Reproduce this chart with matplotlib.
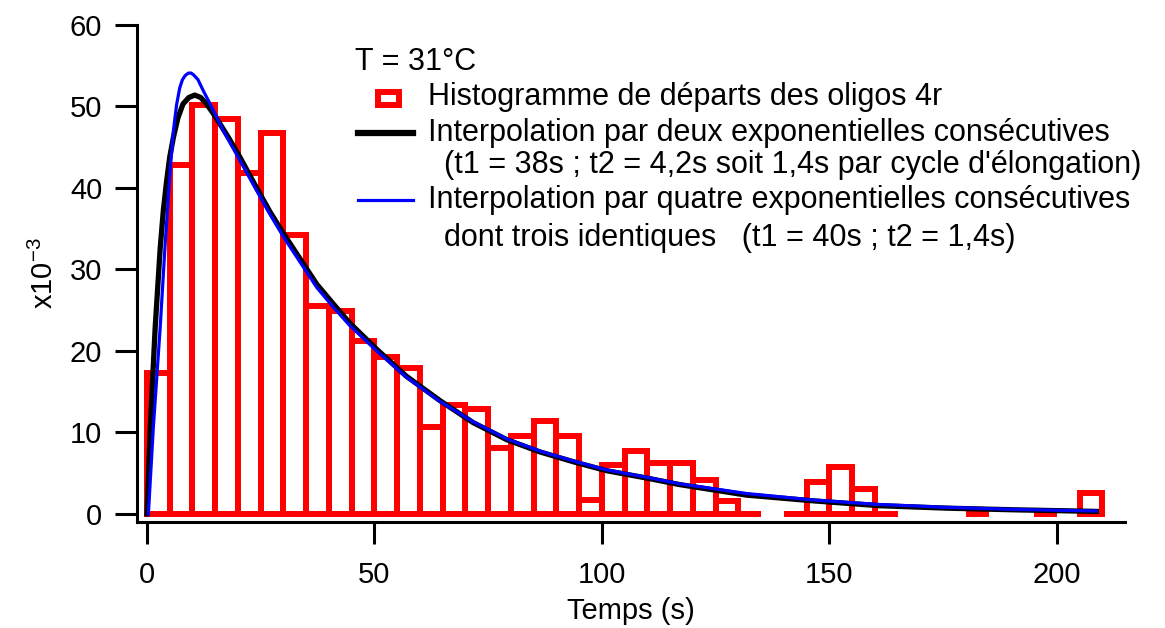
import numpy as np
import matplotlib
matplotlib.use("Agg")
import matplotlib.pyplot as plt
from matplotlib.patches import Rectangle
from matplotlib.lines import Line2D

plt.rcParams['font.family'] = ['Liberation Sans', 'DejaVu Sans']

# histogram of departures, 5 s bins (nan = empty bin, not drawn)
bin_start = np.arange(0, 210, 5)
counts = [17.3, 42.8, 50.2, 48.5, 41.8, 46.7, 34.2, 25.5, 24.9, 21.2,
          19.3, 17.9, 10.7, 13.4, 12.9, 8.1, 9.6, 11.4, 9.6, 1.7,
          6.0, 7.7, 6.3, 6.3, 4.2, 1.6, 0.0, np.nan, 0.0, 3.9,
          5.8, 3.1, 0.0, np.nan, np.nan, np.nan, 0.0, np.nan, np.nan, 0.0,
          np.nan, 2.6]

# fit with two consecutive exponentials
fit2_t = [0, 0.7, 1.8, 2.9, 3.6, 4.3, 5.0, 5.8, 6.8, 7.9, 9.2, 10.5, 11.8, 13.1,
          14.5, 16.0, 18.0, 20.4, 24.1, 27.0, 30.0, 34.0, 37.3, 40.9, 44.6, 50.5,
          57.0, 64.4, 71.7, 79.1, 86.4, 93.7, 101.0, 109.8, 117.0, 131.8, 146.4,
          161.0, 175.8, 190.4, 208.7]
fit2_y = [0, 10.4, 22.9, 32.6, 37.3, 40.8, 43.8, 46.2, 48.6, 50.3, 51.1, 51.4, 51.1,
          50.3, 49.2, 47.9, 46.1, 43.8, 40.0, 37.1, 34.4, 31.0, 28.2, 25.8, 23.4,
          20.2, 16.9, 13.9, 11.2, 9.1, 7.6, 6.4, 5.3, 4.4, 3.6, 2.3, 1.6,
          1.0, 0.7, 0.5, 0.3]

# fit with four consecutive exponentials (three identical)
fit4_t = [0.3, 1.4, 2.9, 4.0, 5.1, 5.8, 6.5, 7.2, 7.8, 8.4, 9.1, 9.7, 10.2, 11.2,
          12.4, 13.8, 16.7, 20.4, 24.4, 27.0, 30.0, 34.0, 37.3, 40.9, 44.6, 50.5,
          57.0, 64.4, 71.7, 79.1, 86.4, 93.7, 101.0, 109.8, 117.0, 131.8, 146.4,
          161.0, 175.8, 190.4, 208.7]
fit4_y = [0, 10.7, 22.9, 33.2, 42.2, 47.0, 50.2, 52.3, 53.3, 53.8, 54.1, 54.1, 53.9, 53.3,
          51.9, 50.4, 47.1, 43.4, 39.4, 36.8, 34.0, 30.6, 27.8, 25.4, 23.1, 20.0,
          16.8, 13.8, 11.3, 9.2, 7.7, 6.5, 5.4, 4.5, 3.7, 2.5, 1.7,
          1.15, 0.8, 0.55, 0.35]

W, H = 1165, 628
fig = plt.figure(figsize=(W / 100, H / 100), dpi=100)
ax = fig.add_axes([137 / W, 1 - 522 / H, (1125 - 137) / W, (522 - 25) / H])

counts = np.array(counts)
ok = ~np.isnan(counts)
ax.bar(bin_start[ok], counts[ok], width=5, align='edge', fill=False,
       edgecolor='#ff0000', linewidth=4.3, joinstyle='miter')
ax.plot(fit2_t, fit2_y, color='black', lw=3.8, solid_joinstyle='round')
ax.plot(fit4_t, fit4_y, color='#0000ff', lw=2.3, solid_joinstyle='round')

ax.set_xlim(-2.2, 215)
ax.set_ylim(-1, 60)
ax.set_xticks([0, 50, 100, 150, 200])
ax.set_yticks(range(0, 61, 10))
for s in ('top', 'right'):
    ax.spines[s].set_visible(False)
for s in ('left', 'bottom'):
    ax.spines[s].set_linewidth(2.2)
ax.tick_params(length=16, width=2.2, labelsize=21)
ax.tick_params(axis='x', pad=12)
ax.tick_params(axis='y', pad=9)
ax.set_xlabel('Temps (s)', fontsize=21, labelpad=6)
ax.set_ylabel('x10$^{\\mathregular{-3}}$', fontsize=21, labelpad=8)


def fx(px):
    return px / W


def fy(py):
    return 1 - py / H


fs = 22
fig.text(fx(355), fy(62), 'T = 31°C', fontsize=fs, va='center')
fig.patches.append(Rectangle((fx(378), fy(105)), 21 / W, 13 / H,
                             transform=fig.transFigure, fill=False,
                             edgecolor='#ff0000', lw=4.3, joinstyle='miter'))
fig.text(fx(428), fy(97), 'Histogramme de départs des oligos 4r', fontsize=fs, va='center')
fig.lines.append(Line2D([fx(358), fx(413)], [fy(133), fy(133)],
                        transform=fig.transFigure, color='black', lw=4.5))
fig.text(fx(428), fy(133), 'Interpolation par deux exponentielles consécutives',
         fontsize=fs, va='center')
fig.text(fx(444), fy(165), "(t1 = 38s ; t2 = 4,2s soit 1,4s par cycle d'élongation)",
         fontsize=fs, va='center')
fig.lines.append(Line2D([fx(358), fx(413)], [fy(200), fy(200)],
                        transform=fig.transFigure, color='#0000ff', lw=2.3))
fig.text(fx(428), fy(200), 'Interpolation par quatre exponentielles consécutives',
         fontsize=fs, va='center')
fig.text(fx(444), fy(238), 'dont trois identiques   (t1 = 40s ; t2 = 1,4s)',
         fontsize=fs, va='center')

fig.savefig('out.png', dpi=100)
